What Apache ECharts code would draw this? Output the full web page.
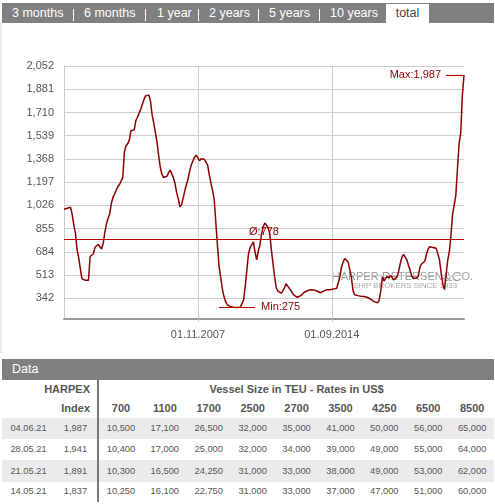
<!DOCTYPE html>
<html><head><meta charset="utf-8">
<script src="https://cdn.jsdelivr.net/npm/echarts/dist/echarts.min.js"></script>
<style>
html,body{margin:0;padding:0;background:#fff;width:495px;height:504px;overflow:hidden;font-family:"Liberation Sans",Arial,sans-serif;}
#tabs{position:absolute;left:2px;top:3px;width:492px;height:20px;background:#808080;}
#tabs span{position:absolute;top:0;height:20px;line-height:20px;font-size:12.5px;color:#fff;white-space:nowrap;}
#tabs .sep{position:absolute;top:6px;width:1px;height:12px;background:#fff;}
#tabs .active{top:1px;height:19px;line-height:18px;background:#fff;color:#444;text-align:center;}
#leftborder{position:absolute;left:0;top:23px;width:2px;height:330px;background:#ececec;}
#chart{position:absolute;left:0;top:0;width:495px;height:355px;}
#databar{position:absolute;left:2px;top:359px;width:492px;height:21px;background:#808080;color:#fff;font-size:12.5px;line-height:21px;}
#databar span{position:absolute;left:10px;}
#tbl{position:absolute;left:2px;top:380px;width:492px;}
.row{position:absolute;left:0;width:492px;}
.cell{position:absolute;top:0;text-align:center;white-space:nowrap;}
.hd{font-weight:bold;font-size:11px;color:#555;}
.dt{font-size:9.3px;color:#555;}
#divider{position:absolute;left:95px;top:0;width:2px;height:122px;background:#777;}
</style>
</head><body>
<div id="chart"></div>
<div id="tabs"></div>
<div id="leftborder"></div>
<div id="databar"><span>Data</span></div>
<div id="tbl"></div>
<script>
// ---- data ----
const tabLabels = ['3 months','6 months','1 year','2 years','5 years','10 years','total'];
const startYear = 2001, startMonth = 1, endYear = 2021, endMonth = 6;
// monthly HARPEX values, Jan 2001 .. Jun 2021
const harpex = [
  998, 998, 1005, 1013, 1013, 960, 885, 820, 700, 640, 560, 485,      // 2001
  478, 475, 474, 476, 650, 659, 670, 718, 725, 738, 738, 705,         // 2002
  745, 825, 890, 930, 965, 1040, 1085, 1110, 1140, 1165, 1180, 1187,  // 2003
  1230, 1420, 1465, 1480, 1506, 1575, 1578, 1582, 1650, 1675, 1705, 1733, // 2004
  1770, 1805, 1832, 1835, 1838, 1790, 1690, 1632, 1560, 1490, 1390, 1305, // 2005
  1255, 1232, 1224, 1240, 1265, 1285, 1260, 1230, 1187, 1120, 1075, 1015, // 2006
  1030, 1080, 1135, 1180, 1220, 1280, 1325, 1355, 1380, 1396, 1375, 1355, // 2007
  1370, 1360, 1365, 1362, 1320, 1250, 1190, 1135, 1070, 900, 730, 575,    // 2008
  495, 410, 355, 318, 295, 285, 280, 278, 277, 276, 275, 277,         // 2009
  277, 285, 330, 430, 550, 670, 715, 738, 757, 683, 625, 690,         // 2010
  735, 815, 870, 897, 880, 862, 820, 700, 600, 500, 420, 395,         // 2011
  388, 380, 395, 420, 450, 452, 415, 398, 380, 364, 355, 350,         // 2012
  350, 362, 372, 385, 390, 398, 402, 405, 406, 403, 400, 396,         // 2013
  390, 383, 380, 395, 405, 406, 406, 406, 406, 410, 413, 416,         // 2014
  420, 500, 575, 610, 635, 645, 610, 555, 500, 400, 368, 362,         // 2015
  362, 360, 358, 357, 355, 352, 348, 342, 335, 325, 318, 313,         // 2016
  310, 325, 395, 500, 470, 480, 505, 490, 510, 495, 478, 490,         // 2017
  500, 545, 600, 646, 665, 670, 625, 585, 548, 505, 490, 480,         // 2018
  490, 505, 570, 595, 605, 615, 665, 705, 722, 720, 716, 712,         // 2019
  710, 700, 625, 530, 450, 406, 510, 622, 685, 800, 960, 1030,        // 2020
  1100, 1300, 1480, 1560, 1837, 1987                                  // 2021
];
const yTicks = [342, 513, 684, 855, 1026, 1197, 1368, 1539, 1710, 1881, 2052];
const yRange = [190, 2052];
const xTickLabels = {'2007-11': '01.11.2007', '2014-09': '01.09.2014'};
const avgValue = 778;
const minValue = 275, minSpan = ['2008-12', '2010-10'];
const maxValue = 1987, maxSpan = ['2020-07', '2021-06'];

const tableDates = ['04.06.21', '28.05.21', '21.05.21', '14.05.21'];
const tableIndex = ['1,987', '1,941', '1,891', '1,837'];
const vesselSizes = ['700','1100','1700','2500','2700','3500','4250','6500','8500'];
const rates0406 = ['10,500','17,100','26,500','32,000','35,000','41,000','50,000','56,000','65,000'];
const rates2805 = ['10,400','17,000','25,000','32,000','34,000','39,000','49,000','55,000','64,000'];
const rates2105 = ['10,300','16,500','24,250','31,000','33,000','38,000','49,000','53,000','62,000'];
const rates1405 = ['10,250','16,100','22,750','31,000','33,000','37,000','47,000','51,000','60,000'];

// ---- category axis (months) ----
const months = [];
for (let y = startYear, m = startMonth; y < endYear || (y === endYear && m <= endMonth); ) {
  months.push(y + '-' + String(m).padStart(2, '0'));
  m++; if (m > 12) { m = 1; y++; }
}

// ---- tabs ----
const tabPos = [10, 82, 155, 207, 267, 328, 384];
const tabW = [0,0,0,0,0,0,43];
const sepPos = [71, 143, 196, 256, 317];
const tabs = document.getElementById('tabs');
tabLabels.forEach((t, i) => {
  const s = document.createElement('span');
  s.textContent = t;
  s.style.left = tabPos[i] + 'px';
  if (i === tabLabels.length - 1) { s.className = 'active'; s.style.width = tabW[i] + 'px'; }
  tabs.appendChild(s);
});
sepPos.forEach(p => { const d = document.createElement('div'); d.className = 'sep'; d.style.left = p + 'px'; tabs.appendChild(d); });

// ---- table ----
const tbl = document.getElementById('tbl');
const colL = 97, colW = 43.9;
function addRow(top, h, bg) {
  const r = document.createElement('div'); r.className = 'row';
  r.style.top = top + 'px'; r.style.height = h + 'px'; r.style.lineHeight = h + 'px';
  if (bg) r.style.background = bg;
  tbl.appendChild(r); return r;
}
function addCell(row, text, left, width, cls, align) {
  const c = document.createElement('div'); c.className = 'cell ' + cls;
  c.textContent = text; c.style.left = left + 'px'; c.style.width = width + 'px';
  if (align) c.style.textAlign = align;
  row.appendChild(c);
}
const h1 = addRow(0, 19);
addCell(h1, 'HARPEX', 0, 88, 'hd', 'right');
addCell(h1, 'Vessel Size in TEU - Rates in US$', colL, colW * 9, 'hd');
const h2 = addRow(19, 19);
addCell(h2, 'Index', 0, 88, 'hd', 'right');
vesselSizes.forEach((v, i) => addCell(h2, v, colL + i * colW, colW, 'hd'));
const rateRows = [rates0406, rates2805, rates2105, rates1405];
const rowTops = [38, 59, 80, 101], rowH = [21, 21, 22, 21];
tableDates.forEach((d, k) => {
  const r = addRow(rowTops[k], rowH[k], k % 2 === 0 ? '#ebebeb' : null);
  addCell(r, d, 0, 53, 'dt');
  addCell(r, tableIndex[k], 51, 45, 'dt');
  rateRows[k].forEach((v, i) => addCell(r, v, colL + i * colW, colW, 'dt'));
});
const dv = document.createElement('div'); dv.id = 'divider'; tbl.appendChild(dv);

// ---- chart ----
const red = '#8b0000';
const markRed = '#b20000';
const chart = echarts.init(document.getElementById('chart'), null, {renderer: 'canvas'});
const showIdx = (idx, val) => xTickLabels[val] !== undefined || xTickLabels[months[idx]] !== undefined;
const markStyle = {color: markRed, width: 1.2, type: 'solid', opacity: 1};
chart.setOption({
  animation: false,
  textStyle: {fontFamily: '"Liberation Sans", Arial, sans-serif'},
  grid: {left: 64, right: 31, top: 66, bottom: 36},
  xAxis: {
    type: 'category', data: months, boundaryGap: false,
    axisLine: {lineStyle: {color: '#999', width: 2}},
    axisTick: {show: true, length: 3, interval: showIdx, lineStyle: {color: '#ccc'}},
    axisLabel: {interval: showIdx, formatter: v => xTickLabels[v] || '', color: '#555', fontSize: 11, margin: 10},
    splitLine: {show: true, interval: showIdx, lineStyle: {color: '#ccc'}}
  },
  yAxis: {
    type: 'value', min: yRange[0], max: yRange[1],
    axisLine: {show: true, lineStyle: {color: '#ccc'}},
    axisTick: {show: false, customValues: yTicks},
    axisLabel: {customValues: yTicks, color: '#555', fontSize: 11, margin: 10,
      formatter: v => v.toLocaleString('en-US')},
    splitLine: {show: true, lineStyle: {color: '#ccc'}}
  },
  graphic: [
    {type: 'text', left: 331, top: 270, z: 0, silent: true,
      style: {text: '{a|H}{b|ARPER }{a|P}{b|ETERSEN}{a|&C}{b|O.}', fill: '#9a9a9a',
        rich: {a: {fontSize: 13.5, fill: '#9a9a9a'}, b: {fontSize: 11, fill: '#9a9a9a'}}}},
    {type: 'text', left: 353, top: 282, z: 0, silent: true,
      style: {text: 'SHIP BROKERS SINCE 1933', fontSize: 7.8, fill: '#a8a8a8'}}
  ],
  series: [{
    type: 'line', data: harpex, showSymbol: false, symbol: 'none',
    lineStyle: {color: red, width: 1.5}, z: 3,
    markLine: {
      silent: true, symbol: 'none',
      itemStyle: {color: markRed},
      lineStyle: markStyle,
      label: {color: red, fontSize: 11},
      data: [
        {yAxis: avgValue, itemStyle: {color: markRed}, lineStyle: markStyle, label: {position: 'insideMiddleTop', formatter: 'Ø:778', distance: 2}},
        [{coord: [minSpan[0], minValue], itemStyle: {color: markRed}, lineStyle: markStyle}, {coord: [minSpan[1], minValue], label: {position: 'end', formatter: 'Min:275', distance: 6}}],
        [{coord: [maxSpan[0], maxValue], itemStyle: {color: markRed}, lineStyle: markStyle, label: {position: 'start', formatter: 'Max:1,987', distance: 5}}, {coord: [maxSpan[1], maxValue]}]
      ]
    }
  }]
});
</script>
</body></html>
